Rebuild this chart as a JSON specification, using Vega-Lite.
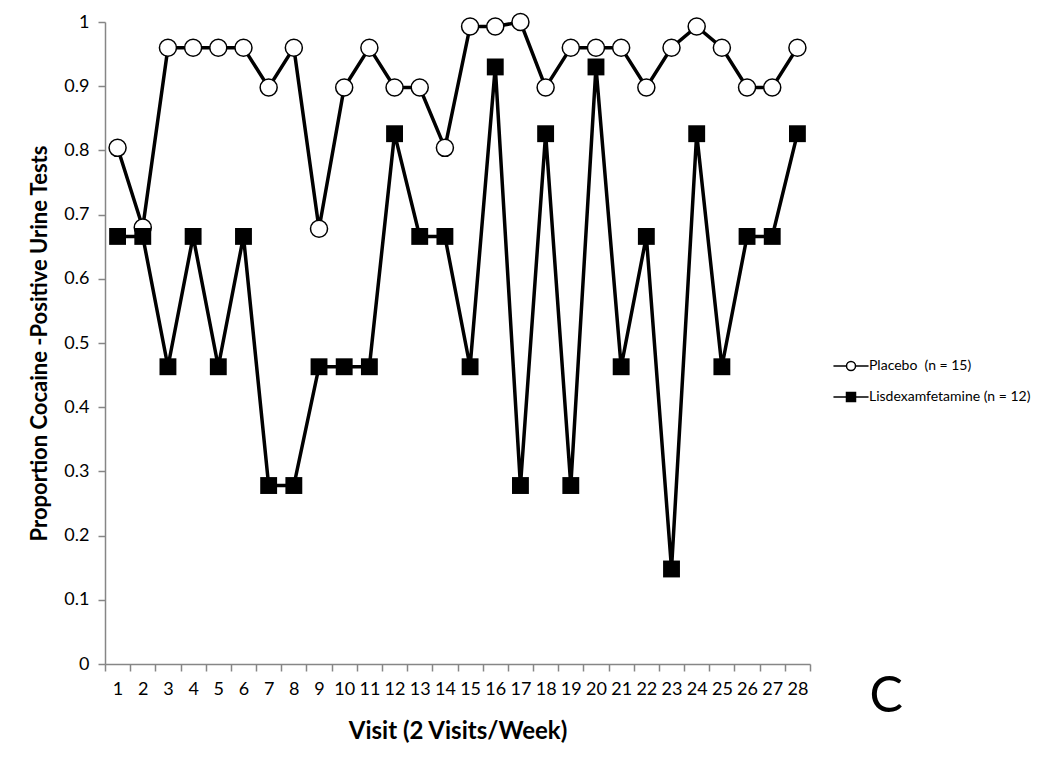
{
  "$schema": "https://vega.github.io/schema/vega-lite/v6.json",
  "width": 705,
  "height": 642,
  "autosize": {"type": "none"},
  "padding": {"left": 105, "top": 22, "right": 240, "bottom": 100},
  "background": "white",
  "title": {
    "text": "C",
    "orient": "bottom",
    "anchor": "end",
    "frame": "group",
    "fontSize": 50,
    "fontWeight": "normal",
    "font": "Lato",
    "color": "black",
    "dx": 93,
    "dy": -75
  },
  "config": {
    "font": "Lato",
    "view": {"stroke": null},
    "axis": {
      "domainColor": "#868686",
      "tickColor": "#868686",
      "domainWidth": 1.5,
      "tickWidth": 1.5,
      "labelColor": "black",
      "titleColor": "black",
      "grid": false
    }
  },
  "data": {
    "values": [
      {"Visit": 1, "Group": "Placebo\u00a0 (n = 15)", "Proportion": 0.804},
      {"Visit": 2, "Group": "Placebo\u00a0 (n = 15)", "Proportion": 0.68},
      {"Visit": 3, "Group": "Placebo\u00a0 (n = 15)", "Proportion": 0.96},
      {"Visit": 4, "Group": "Placebo\u00a0 (n = 15)", "Proportion": 0.96},
      {"Visit": 5, "Group": "Placebo\u00a0 (n = 15)", "Proportion": 0.96},
      {"Visit": 6, "Group": "Placebo\u00a0 (n = 15)", "Proportion": 0.96},
      {"Visit": 7, "Group": "Placebo\u00a0 (n = 15)", "Proportion": 0.898},
      {"Visit": 8, "Group": "Placebo\u00a0 (n = 15)", "Proportion": 0.96},
      {"Visit": 9, "Group": "Placebo\u00a0 (n = 15)", "Proportion": 0.678},
      {"Visit": 10, "Group": "Placebo\u00a0 (n = 15)", "Proportion": 0.898},
      {"Visit": 11, "Group": "Placebo\u00a0 (n = 15)", "Proportion": 0.96},
      {"Visit": 12, "Group": "Placebo\u00a0 (n = 15)", "Proportion": 0.898},
      {"Visit": 13, "Group": "Placebo\u00a0 (n = 15)", "Proportion": 0.898},
      {"Visit": 14, "Group": "Placebo\u00a0 (n = 15)", "Proportion": 0.804},
      {"Visit": 15, "Group": "Placebo\u00a0 (n = 15)", "Proportion": 0.993},
      {"Visit": 16, "Group": "Placebo\u00a0 (n = 15)", "Proportion": 0.993},
      {"Visit": 17, "Group": "Placebo\u00a0 (n = 15)", "Proportion": 1.0},
      {"Visit": 18, "Group": "Placebo\u00a0 (n = 15)", "Proportion": 0.898},
      {"Visit": 19, "Group": "Placebo\u00a0 (n = 15)", "Proportion": 0.96},
      {"Visit": 20, "Group": "Placebo\u00a0 (n = 15)", "Proportion": 0.96},
      {"Visit": 21, "Group": "Placebo\u00a0 (n = 15)", "Proportion": 0.96},
      {"Visit": 22, "Group": "Placebo\u00a0 (n = 15)", "Proportion": 0.898},
      {"Visit": 23, "Group": "Placebo\u00a0 (n = 15)", "Proportion": 0.96},
      {"Visit": 24, "Group": "Placebo\u00a0 (n = 15)", "Proportion": 0.993},
      {"Visit": 25, "Group": "Placebo\u00a0 (n = 15)", "Proportion": 0.96},
      {"Visit": 26, "Group": "Placebo\u00a0 (n = 15)", "Proportion": 0.898},
      {"Visit": 27, "Group": "Placebo\u00a0 (n = 15)", "Proportion": 0.898},
      {"Visit": 28, "Group": "Placebo\u00a0 (n = 15)", "Proportion": 0.96},
      {"Visit": 1, "Group": "Lisdexamfetamine (n = 12)", "Proportion": 0.666},
      {"Visit": 2, "Group": "Lisdexamfetamine (n = 12)", "Proportion": 0.666},
      {"Visit": 3, "Group": "Lisdexamfetamine (n = 12)", "Proportion": 0.463},
      {"Visit": 4, "Group": "Lisdexamfetamine (n = 12)", "Proportion": 0.666},
      {"Visit": 5, "Group": "Lisdexamfetamine (n = 12)", "Proportion": 0.463},
      {"Visit": 6, "Group": "Lisdexamfetamine (n = 12)", "Proportion": 0.666},
      {"Visit": 7, "Group": "Lisdexamfetamine (n = 12)", "Proportion": 0.278},
      {"Visit": 8, "Group": "Lisdexamfetamine (n = 12)", "Proportion": 0.278},
      {"Visit": 9, "Group": "Lisdexamfetamine (n = 12)", "Proportion": 0.463},
      {"Visit": 10, "Group": "Lisdexamfetamine (n = 12)", "Proportion": 0.463},
      {"Visit": 11, "Group": "Lisdexamfetamine (n = 12)", "Proportion": 0.463},
      {"Visit": 12, "Group": "Lisdexamfetamine (n = 12)", "Proportion": 0.826},
      {"Visit": 13, "Group": "Lisdexamfetamine (n = 12)", "Proportion": 0.666},
      {"Visit": 14, "Group": "Lisdexamfetamine (n = 12)", "Proportion": 0.666},
      {"Visit": 15, "Group": "Lisdexamfetamine (n = 12)", "Proportion": 0.463},
      {"Visit": 16, "Group": "Lisdexamfetamine (n = 12)", "Proportion": 0.93},
      {"Visit": 17, "Group": "Lisdexamfetamine (n = 12)", "Proportion": 0.278},
      {"Visit": 18, "Group": "Lisdexamfetamine (n = 12)", "Proportion": 0.826},
      {"Visit": 19, "Group": "Lisdexamfetamine (n = 12)", "Proportion": 0.278},
      {"Visit": 20, "Group": "Lisdexamfetamine (n = 12)", "Proportion": 0.93},
      {"Visit": 21, "Group": "Lisdexamfetamine (n = 12)", "Proportion": 0.463},
      {"Visit": 22, "Group": "Lisdexamfetamine (n = 12)", "Proportion": 0.666},
      {"Visit": 23, "Group": "Lisdexamfetamine (n = 12)", "Proportion": 0.148},
      {"Visit": 24, "Group": "Lisdexamfetamine (n = 12)", "Proportion": 0.826},
      {"Visit": 25, "Group": "Lisdexamfetamine (n = 12)", "Proportion": 0.463},
      {"Visit": 26, "Group": "Lisdexamfetamine (n = 12)", "Proportion": 0.666},
      {"Visit": 27, "Group": "Lisdexamfetamine (n = 12)", "Proportion": 0.666},
      {"Visit": 28, "Group": "Lisdexamfetamine (n = 12)", "Proportion": 0.826}
    ]
  },
  "encoding": {
    "x": {
      "field": "Visit",
      "type": "ordinal",
      "scale": {"type": "band", "paddingInner": 0, "paddingOuter": 0},
      "axis": {
        "title": "Visit (2 Visits/Week)",
        "titleFontSize": 24,
        "titleFontWeight": "bold",
        "titlePadding": 21,
        "labelAngle": 0,
        "labelFontSize": 18,
        "labelPadding": 9,
        "tickSize": 7,
        "tickBand": "extent"
      }
    },
    "y": {
      "field": "Proportion",
      "type": "quantitative",
      "scale": {"domain": [0, 1], "nice": false, "zero": true},
      "axis": {
        "title": "Proportion Cocaine -Positive Urine Tests",
        "titleFontSize": 22,
        "titleFontWeight": "bold",
        "titlePadding": 12,
        "values": [0, 0.1, 0.2, 0.3, 0.4, 0.5, 0.6, 0.7, 0.8, 0.9, 1],
        "format": ".1~f",
        "labelFontSize": 18,
        "labelPadding": 9,
        "tickSize": 7
      }
    }
  },
  "layer": [
    {
      "mark": {"type": "line", "color": "black", "strokeWidth": 3.5},
      "encoding": {"detail": {"field": "Group"}}
    },
    {
      "transform": [{"filter": "datum.Group == 'Placebo\u00a0 (n = 15)'"}],
      "mark": {"type": "point", "shape": "circle", "filled": true, "fill": "white", "stroke": "black", "strokeWidth": 1.5, "size": 290, "opacity": 1}
    },
    {
      "transform": [{"filter": "datum.Group == 'Lisdexamfetamine (n = 12)'"}],
      "mark": {"type": "point", "shape": "square", "filled": true, "fill": "black", "stroke": "black", "strokeWidth": 0, "size": 285, "opacity": 1}
    },
    {
      "transform": [{"filter": "datum.Visit < 0"}],
      "mark": {"type": "point", "filled": true, "stroke": "black", "strokeWidth": 3, "size": 81, "opacity": 1},
      "encoding": {
        "shape": {
          "field": "Group",
          "type": "nominal",
          "scale": {
            "domain": ["Placebo\u00a0 (n = 15)", "Lisdexamfetamine (n = 12)"],
            "range": [
              "M-3.9,0H-1M1,0H3.9M-1,0A1,1 0 1,0 1,0A1,1 0 1,0 -1,0Z",
              "M-3.9,0H-1M1,0H3.9M-1,-1H1V1H-1Z"
            ]
          },
          "legend": {
            "title": null,
            "orient": "none",
            "legendX": 739,
            "legendY": 337,
            "padding": 0,
            "labelFontSize": 14,
            "labelFont": "Lato",
            "labelColor": "black",
            "labelLimit": 0,
            "labelOffset": 11,
            "rowPadding": 15,
            "symbolSize": 81,
            "symbolOpacity": 1,
            "encode": {
              "symbols": {
                "update": {
                  "stroke": {"value": "black"},
                  "strokeWidth": {"value": 2.8},
                  "opacity": {"value": 1}
                }
              }
            }
          }
        },
        "fill": {
          "field": "Group",
          "type": "nominal",
          "scale": {
            "domain": ["Placebo\u00a0 (n = 15)", "Lisdexamfetamine (n = 12)"],
            "range": ["white", "black"]
          },
          "legend": {
            "title": null,
            "orient": "none",
            "legendX": 739,
            "legendY": 337,
            "padding": 0,
            "labelFontSize": 14,
            "labelFont": "Lato",
            "labelColor": "black",
            "labelLimit": 0,
            "labelOffset": 11,
            "rowPadding": 15,
            "symbolSize": 81,
            "symbolOpacity": 1,
            "encode": {
              "symbols": {
                "update": {
                  "stroke": {"value": "black"},
                  "strokeWidth": {"value": 2.8},
                  "opacity": {"value": 1}
                }
              }
            }
          }
        }
      }
    }
  ]
}
